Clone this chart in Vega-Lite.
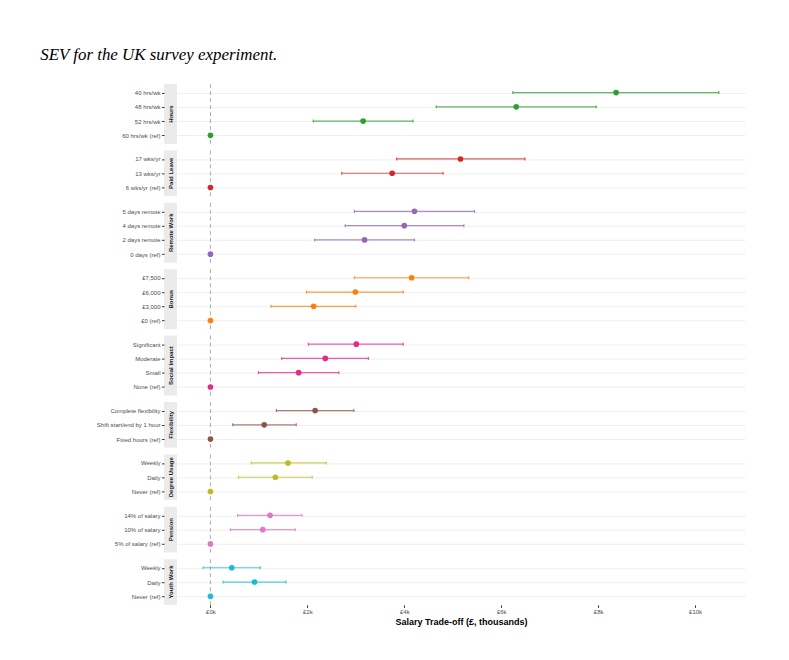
{
"$schema": "https://vega.github.io/schema/vega-lite/v6.json",
"background": "white",
"padding": {"left": 40, "top": 45, "right": 20, "bottom": 10},
"title": {"text": "SEV for the UK survey experiment.", "anchor": "start", "font": "Liberation Serif", "fontStyle": "italic", "fontWeight": "normal", "fontSize": 16.9, "color": "#000000", "offset": 20, "dx": -56},
"data": {"values": [
{"group":"Hours","level":"40 hrs/wk","est":8.37,"lo":6.24,"hi":10.49},
{"group":"Hours","level":"48 hrs/wk","est":6.31,"lo":4.66,"hi":7.96},
{"group":"Hours","level":"52 hrs/wk","est":3.15,"lo":2.12,"hi":4.18},
{"group":"Hours","level":"60 hrs/wk (ref)","est":0,"lo":0,"hi":0},
{"group":"Paid Leave","level":"17 wks/yr","est":5.16,"lo":3.84,"hi":6.49},
{"group":"Paid Leave","level":"13 wks/yr","est":3.75,"lo":2.71,"hi":4.80},
{"group":"Paid Leave","level":"6 wks/yr (ref)","est":0,"lo":0,"hi":0},
{"group":"Remote Work","level":"5 days remote","est":4.21,"lo":2.97,"hi":5.45},
{"group":"Remote Work","level":"4 days remote","est":4.00,"lo":2.78,"hi":5.23},
{"group":"Remote Work","level":"2 days remote","est":3.18,"lo":2.15,"hi":4.21},
{"group":"Remote Work","level":"0 days (ref)","est":0,"lo":0,"hi":0},
{"group":"Bonus","level":"£7,500","est":4.15,"lo":2.97,"hi":5.33},
{"group":"Bonus","level":"£6,000","est":2.99,"lo":1.98,"hi":3.98},
{"group":"Bonus","level":"£3,000","est":2.13,"lo":1.25,"hi":3.00},
{"group":"Bonus","level":"£0 (ref)","est":0,"lo":0,"hi":0},
{"group":"Social Impact","level":"Significant","est":3.01,"lo":2.02,"hi":3.98},
{"group":"Social Impact","level":"Moderate","est":2.37,"lo":1.47,"hi":3.26},
{"group":"Social Impact","level":"Small","est":1.82,"lo":0.99,"hi":2.65},
{"group":"Social Impact","level":"None (ref)","est":0,"lo":0,"hi":0},
{"group":"Flexibility","level":"Complete flexibility","est":2.16,"lo":1.36,"hi":2.96},
{"group":"Flexibility","level":"Shift start/end by 1 hour","est":1.11,"lo":0.46,"hi":1.77},
{"group":"Flexibility","level":"Fixed hours (ref)","est":0,"lo":0,"hi":0},
{"group":"Degree Usage","level":"Weekly","est":1.60,"lo":0.84,"hi":2.39},
{"group":"Degree Usage","level":"Daily","est":1.34,"lo":0.58,"hi":2.10},
{"group":"Degree Usage","level":"Never (ref)","est":0,"lo":0,"hi":0},
{"group":"Pension","level":"14% of salary","est":1.23,"lo":0.56,"hi":1.89},
{"group":"Pension","level":"10% of salary","est":1.08,"lo":0.41,"hi":1.75},
{"group":"Pension","level":"5% of salary (ref)","est":0,"lo":0,"hi":0},
{"group":"Youth Work","level":"Weekly","est":0.44,"lo":-0.15,"hi":1.03},
{"group":"Youth Work","level":"Daily","est":0.91,"lo":0.26,"hi":1.56},
{"group":"Youth Work","level":"Never (ref)","est":0,"lo":0,"hi":0}
]},
"columns": 2,
"spacing": {"row": 4.4, "column": 0},
"align": {"row": "each", "column": "each"},
"concat": [
{"width":13,"height":{"step":14.27},"view":{"fill":"#ebebeb","stroke":null},"transform":[{"filter":"datum.group==='Hours'"}],"layer":[
 {"mark":{"type":"point","opacity":0},"encoding":{"y":{"field":"level","type":"ordinal","sort":{"field":"est","order":"descending"},"scale":{"type":"point","padding":0.6},"axis":{"labels":true,"ticks":true,"grid":false,"title":null}}}},
 {"transform":[{"aggregate":[{"op":"count","as":"n"}]}],"mark":{"type":"text","text":"Hours","angle":270,"fontWeight":"bold","fontSize":6,"color":"#1a1a1a"},"encoding":{}}]},
{"width":568,"height":{"step":14.27},"transform":[{"filter":"datum.group==='Hours'"}],"layer":[
 {"transform":[{"aggregate":[{"op":"count","as":"n"}]}],"mark":{"type":"rule","strokeDash":[4,3],"color":"#999999","strokeWidth":0.8},"encoding":{"x":{"datum":0,"type":"quantitative","scale":{"domain":[-0.69,11.03],"nice":false,"zero":false},"title":null}}},
 {"mark":{"type":"errorbar","ticks":true,"color":"#2ca02c","opacity":0.75,"thickness":1.2,"size":3},"encoding":{"y":{"field":"level","type":"ordinal","sort":{"field":"est","order":"descending"},"scale":{"type":"point","padding":0.6},"axis":{"grid":true,"title":null}},"x":{"field":"lo","type":"quantitative","scale":{"domain":[-0.69,11.03],"nice":false,"zero":false},"title":null},"x2":{"field":"hi"}}},
 {"mark":{"type":"point","filled":true,"opacity":1,"size":32,"color":"#2ca02c"},"encoding":{"y":{"field":"level","type":"ordinal","sort":{"field":"est","order":"descending"},"scale":{"type":"point","padding":0.6},"axis":{"grid":true,"title":null}},"x":{"field":"est","type":"quantitative","scale":{"domain":[-0.69,11.03],"nice":false,"zero":false},"title":null}}}]},

{"width":13,"height":{"step":14.27},"view":{"fill":"#ebebeb","stroke":null},"transform":[{"filter":"datum.group==='Paid Leave'"}],"layer":[
 {"mark":{"type":"point","opacity":0},"encoding":{"y":{"field":"level","type":"ordinal","sort":{"field":"est","order":"descending"},"scale":{"type":"point","padding":0.6},"axis":{"labels":true,"ticks":true,"grid":false,"title":null}}}},
 {"transform":[{"aggregate":[{"op":"count","as":"n"}]}],"mark":{"type":"text","text":"Paid Leave","angle":270,"fontWeight":"bold","fontSize":6,"color":"#1a1a1a"},"encoding":{}}]},
{"width":568,"height":{"step":14.27},"transform":[{"filter":"datum.group==='Paid Leave'"}],"layer":[
 {"transform":[{"aggregate":[{"op":"count","as":"n"}]}],"mark":{"type":"rule","strokeDash":[4,3],"color":"#999999","strokeWidth":0.8},"encoding":{"x":{"datum":0,"type":"quantitative","scale":{"domain":[-0.69,11.03],"nice":false,"zero":false},"title":null}}},
 {"mark":{"type":"errorbar","ticks":true,"color":"#d62728","opacity":0.75,"thickness":1.2,"size":3},"encoding":{"y":{"field":"level","type":"ordinal","sort":{"field":"est","order":"descending"},"scale":{"type":"point","padding":0.6},"axis":{"grid":true,"title":null}},"x":{"field":"lo","type":"quantitative","scale":{"domain":[-0.69,11.03],"nice":false,"zero":false},"title":null},"x2":{"field":"hi"}}},
 {"mark":{"type":"point","filled":true,"opacity":1,"size":32,"color":"#d62728"},"encoding":{"y":{"field":"level","type":"ordinal","sort":{"field":"est","order":"descending"},"scale":{"type":"point","padding":0.6},"axis":{"grid":true,"title":null}},"x":{"field":"est","type":"quantitative","scale":{"domain":[-0.69,11.03],"nice":false,"zero":false},"title":null}}}]},

{"width":13,"height":{"step":14.27},"view":{"fill":"#ebebeb","stroke":null},"transform":[{"filter":"datum.group==='Remote Work'"}],"layer":[
 {"mark":{"type":"point","opacity":0},"encoding":{"y":{"field":"level","type":"ordinal","sort":{"field":"est","order":"descending"},"scale":{"type":"point","padding":0.6},"axis":{"labels":true,"ticks":true,"grid":false,"title":null}}}},
 {"transform":[{"aggregate":[{"op":"count","as":"n"}]}],"mark":{"type":"text","text":"Remote Work","angle":270,"fontWeight":"bold","fontSize":6,"color":"#1a1a1a"},"encoding":{}}]},
{"width":568,"height":{"step":14.27},"transform":[{"filter":"datum.group==='Remote Work'"}],"layer":[
 {"transform":[{"aggregate":[{"op":"count","as":"n"}]}],"mark":{"type":"rule","strokeDash":[4,3],"color":"#999999","strokeWidth":0.8},"encoding":{"x":{"datum":0,"type":"quantitative","scale":{"domain":[-0.69,11.03],"nice":false,"zero":false},"title":null}}},
 {"mark":{"type":"errorbar","ticks":true,"color":"#9467bd","opacity":0.75,"thickness":1.2,"size":3},"encoding":{"y":{"field":"level","type":"ordinal","sort":{"field":"est","order":"descending"},"scale":{"type":"point","padding":0.6},"axis":{"grid":true,"title":null}},"x":{"field":"lo","type":"quantitative","scale":{"domain":[-0.69,11.03],"nice":false,"zero":false},"title":null},"x2":{"field":"hi"}}},
 {"mark":{"type":"point","filled":true,"opacity":1,"size":32,"color":"#9467bd"},"encoding":{"y":{"field":"level","type":"ordinal","sort":{"field":"est","order":"descending"},"scale":{"type":"point","padding":0.6},"axis":{"grid":true,"title":null}},"x":{"field":"est","type":"quantitative","scale":{"domain":[-0.69,11.03],"nice":false,"zero":false},"title":null}}}]},

{"width":13,"height":{"step":14.27},"view":{"fill":"#ebebeb","stroke":null},"transform":[{"filter":"datum.group==='Bonus'"}],"layer":[
 {"mark":{"type":"point","opacity":0},"encoding":{"y":{"field":"level","type":"ordinal","sort":{"field":"est","order":"descending"},"scale":{"type":"point","padding":0.6},"axis":{"labels":true,"ticks":true,"grid":false,"title":null}}}},
 {"transform":[{"aggregate":[{"op":"count","as":"n"}]}],"mark":{"type":"text","text":"Bonus","angle":270,"fontWeight":"bold","fontSize":6,"color":"#1a1a1a"},"encoding":{}}]},
{"width":568,"height":{"step":14.27},"transform":[{"filter":"datum.group==='Bonus'"}],"layer":[
 {"transform":[{"aggregate":[{"op":"count","as":"n"}]}],"mark":{"type":"rule","strokeDash":[4,3],"color":"#999999","strokeWidth":0.8},"encoding":{"x":{"datum":0,"type":"quantitative","scale":{"domain":[-0.69,11.03],"nice":false,"zero":false},"title":null}}},
 {"mark":{"type":"errorbar","ticks":true,"color":"#ff7f0e","opacity":0.75,"thickness":1.2,"size":3},"encoding":{"y":{"field":"level","type":"ordinal","sort":{"field":"est","order":"descending"},"scale":{"type":"point","padding":0.6},"axis":{"grid":true,"title":null}},"x":{"field":"lo","type":"quantitative","scale":{"domain":[-0.69,11.03],"nice":false,"zero":false},"title":null},"x2":{"field":"hi"}}},
 {"mark":{"type":"point","filled":true,"opacity":1,"size":32,"color":"#ff7f0e"},"encoding":{"y":{"field":"level","type":"ordinal","sort":{"field":"est","order":"descending"},"scale":{"type":"point","padding":0.6},"axis":{"grid":true,"title":null}},"x":{"field":"est","type":"quantitative","scale":{"domain":[-0.69,11.03],"nice":false,"zero":false},"title":null}}}]},

{"width":13,"height":{"step":14.27},"view":{"fill":"#ebebeb","stroke":null},"transform":[{"filter":"datum.group==='Social Impact'"}],"layer":[
 {"mark":{"type":"point","opacity":0},"encoding":{"y":{"field":"level","type":"ordinal","sort":{"field":"est","order":"descending"},"scale":{"type":"point","padding":0.6},"axis":{"labels":true,"ticks":true,"grid":false,"title":null}}}},
 {"transform":[{"aggregate":[{"op":"count","as":"n"}]}],"mark":{"type":"text","text":"Social Impact","angle":270,"fontWeight":"bold","fontSize":6,"color":"#1a1a1a"},"encoding":{}}]},
{"width":568,"height":{"step":14.27},"transform":[{"filter":"datum.group==='Social Impact'"}],"layer":[
 {"transform":[{"aggregate":[{"op":"count","as":"n"}]}],"mark":{"type":"rule","strokeDash":[4,3],"color":"#999999","strokeWidth":0.8},"encoding":{"x":{"datum":0,"type":"quantitative","scale":{"domain":[-0.69,11.03],"nice":false,"zero":false},"title":null}}},
 {"mark":{"type":"errorbar","ticks":true,"color":"#e7298a","opacity":0.75,"thickness":1.2,"size":3},"encoding":{"y":{"field":"level","type":"ordinal","sort":{"field":"est","order":"descending"},"scale":{"type":"point","padding":0.6},"axis":{"grid":true,"title":null}},"x":{"field":"lo","type":"quantitative","scale":{"domain":[-0.69,11.03],"nice":false,"zero":false},"title":null},"x2":{"field":"hi"}}},
 {"mark":{"type":"point","filled":true,"opacity":1,"size":32,"color":"#e7298a"},"encoding":{"y":{"field":"level","type":"ordinal","sort":{"field":"est","order":"descending"},"scale":{"type":"point","padding":0.6},"axis":{"grid":true,"title":null}},"x":{"field":"est","type":"quantitative","scale":{"domain":[-0.69,11.03],"nice":false,"zero":false},"title":null}}}]},

{"width":13,"height":{"step":14.27},"view":{"fill":"#ebebeb","stroke":null},"transform":[{"filter":"datum.group==='Flexibility'"}],"layer":[
 {"mark":{"type":"point","opacity":0},"encoding":{"y":{"field":"level","type":"ordinal","sort":{"field":"est","order":"descending"},"scale":{"type":"point","padding":0.6},"axis":{"labels":true,"ticks":true,"grid":false,"title":null}}}},
 {"transform":[{"aggregate":[{"op":"count","as":"n"}]}],"mark":{"type":"text","text":"Flexibility","angle":270,"fontWeight":"bold","fontSize":6,"color":"#1a1a1a"},"encoding":{}}]},
{"width":568,"height":{"step":14.27},"transform":[{"filter":"datum.group==='Flexibility'"}],"layer":[
 {"transform":[{"aggregate":[{"op":"count","as":"n"}]}],"mark":{"type":"rule","strokeDash":[4,3],"color":"#999999","strokeWidth":0.8},"encoding":{"x":{"datum":0,"type":"quantitative","scale":{"domain":[-0.69,11.03],"nice":false,"zero":false},"title":null}}},
 {"mark":{"type":"errorbar","ticks":true,"color":"#8c564b","opacity":0.75,"thickness":1.2,"size":3},"encoding":{"y":{"field":"level","type":"ordinal","sort":{"field":"est","order":"descending"},"scale":{"type":"point","padding":0.6},"axis":{"grid":true,"title":null}},"x":{"field":"lo","type":"quantitative","scale":{"domain":[-0.69,11.03],"nice":false,"zero":false},"title":null},"x2":{"field":"hi"}}},
 {"mark":{"type":"point","filled":true,"opacity":1,"size":32,"color":"#8c564b"},"encoding":{"y":{"field":"level","type":"ordinal","sort":{"field":"est","order":"descending"},"scale":{"type":"point","padding":0.6},"axis":{"grid":true,"title":null}},"x":{"field":"est","type":"quantitative","scale":{"domain":[-0.69,11.03],"nice":false,"zero":false},"title":null}}}]},

{"width":13,"height":{"step":14.27},"view":{"fill":"#ebebeb","stroke":null},"transform":[{"filter":"datum.group==='Degree Usage'"}],"layer":[
 {"mark":{"type":"point","opacity":0},"encoding":{"y":{"field":"level","type":"ordinal","sort":{"field":"est","order":"descending"},"scale":{"type":"point","padding":0.6},"axis":{"labels":true,"ticks":true,"grid":false,"title":null}}}},
 {"transform":[{"aggregate":[{"op":"count","as":"n"}]}],"mark":{"type":"text","text":"Degree Usage","angle":270,"fontWeight":"bold","fontSize":6,"color":"#1a1a1a"},"encoding":{}}]},
{"width":568,"height":{"step":14.27},"transform":[{"filter":"datum.group==='Degree Usage'"}],"layer":[
 {"transform":[{"aggregate":[{"op":"count","as":"n"}]}],"mark":{"type":"rule","strokeDash":[4,3],"color":"#999999","strokeWidth":0.8},"encoding":{"x":{"datum":0,"type":"quantitative","scale":{"domain":[-0.69,11.03],"nice":false,"zero":false},"title":null}}},
 {"mark":{"type":"errorbar","ticks":true,"color":"#bcbd22","opacity":0.75,"thickness":1.2,"size":3},"encoding":{"y":{"field":"level","type":"ordinal","sort":{"field":"est","order":"descending"},"scale":{"type":"point","padding":0.6},"axis":{"grid":true,"title":null}},"x":{"field":"lo","type":"quantitative","scale":{"domain":[-0.69,11.03],"nice":false,"zero":false},"title":null},"x2":{"field":"hi"}}},
 {"mark":{"type":"point","filled":true,"opacity":1,"size":32,"color":"#bcbd22"},"encoding":{"y":{"field":"level","type":"ordinal","sort":{"field":"est","order":"descending"},"scale":{"type":"point","padding":0.6},"axis":{"grid":true,"title":null}},"x":{"field":"est","type":"quantitative","scale":{"domain":[-0.69,11.03],"nice":false,"zero":false},"title":null}}}]},

{"width":13,"height":{"step":14.27},"view":{"fill":"#ebebeb","stroke":null},"transform":[{"filter":"datum.group==='Pension'"}],"layer":[
 {"mark":{"type":"point","opacity":0},"encoding":{"y":{"field":"level","type":"ordinal","sort":{"field":"est","order":"descending"},"scale":{"type":"point","padding":0.6},"axis":{"labels":true,"ticks":true,"grid":false,"title":null}}}},
 {"transform":[{"aggregate":[{"op":"count","as":"n"}]}],"mark":{"type":"text","text":"Pension","angle":270,"fontWeight":"bold","fontSize":6,"color":"#1a1a1a"},"encoding":{}}]},
{"width":568,"height":{"step":14.27},"transform":[{"filter":"datum.group==='Pension'"}],"layer":[
 {"transform":[{"aggregate":[{"op":"count","as":"n"}]}],"mark":{"type":"rule","strokeDash":[4,3],"color":"#999999","strokeWidth":0.8},"encoding":{"x":{"datum":0,"type":"quantitative","scale":{"domain":[-0.69,11.03],"nice":false,"zero":false},"title":null}}},
 {"mark":{"type":"errorbar","ticks":true,"color":"#e377c2","opacity":0.75,"thickness":1.2,"size":3},"encoding":{"y":{"field":"level","type":"ordinal","sort":{"field":"est","order":"descending"},"scale":{"type":"point","padding":0.6},"axis":{"grid":true,"title":null}},"x":{"field":"lo","type":"quantitative","scale":{"domain":[-0.69,11.03],"nice":false,"zero":false},"title":null},"x2":{"field":"hi"}}},
 {"mark":{"type":"point","filled":true,"opacity":1,"size":32,"color":"#e377c2"},"encoding":{"y":{"field":"level","type":"ordinal","sort":{"field":"est","order":"descending"},"scale":{"type":"point","padding":0.6},"axis":{"grid":true,"title":null}},"x":{"field":"est","type":"quantitative","scale":{"domain":[-0.69,11.03],"nice":false,"zero":false},"title":null}}}]},

{"width":13,"height":{"step":14.27},"view":{"fill":"#ebebeb","stroke":null},"transform":[{"filter":"datum.group==='Youth Work'"}],"layer":[
 {"mark":{"type":"point","opacity":0},"encoding":{"y":{"field":"level","type":"ordinal","sort":["Weekly","Daily","Never (ref)"],"scale":{"type":"point","padding":0.6},"axis":{"labels":true,"ticks":true,"grid":false,"title":null}}}},
 {"transform":[{"aggregate":[{"op":"count","as":"n"}]}],"mark":{"type":"text","text":"Youth Work","angle":270,"fontWeight":"bold","fontSize":6,"color":"#1a1a1a"},"encoding":{}}]},
{"width":568,"height":{"step":14.27},"transform":[{"filter":"datum.group==='Youth Work'"}],"layer":[
 {"transform":[{"aggregate":[{"op":"count","as":"n"}]}],"mark":{"type":"rule","strokeDash":[4,3],"color":"#999999","strokeWidth":0.8},"encoding":{"x":{"datum":0,"type":"quantitative","scale":{"domain":[-0.69,11.03],"nice":false,"zero":false},"title":"Salary Trade-off (£, thousands)"}}},
 {"mark":{"type":"errorbar","ticks":true,"color":"#17becf","opacity":0.75,"thickness":1.2,"size":3},"encoding":{"y":{"field":"level","type":"ordinal","sort":["Weekly","Daily","Never (ref)"],"scale":{"type":"point","padding":0.6},"axis":{"grid":true,"title":null}},"x":{"field":"lo","type":"quantitative","scale":{"domain":[-0.69,11.03],"nice":false,"zero":false},"title":"Salary Trade-off (£, thousands)"},"x2":{"field":"hi"}}},
 {"mark":{"type":"point","filled":true,"opacity":1,"size":32,"color":"#17becf"},"encoding":{"y":{"field":"level","type":"ordinal","sort":["Weekly","Daily","Never (ref)"],"scale":{"type":"point","padding":0.6},"axis":{"grid":true,"title":null}},"x":{"field":"est","type":"quantitative","scale":{"domain":[-0.69,11.03],"nice":false,"zero":false},"title":"Salary Trade-off (£, thousands)","axis":{"labels":true,"ticks":true,"labelExpr":"'£' + datum.value + 'k'","labelFlush":false}}}}]}
],
"config": {
 "font": "Liberation Sans",
 "view": {"stroke": null},
 "axis": {"domain": false, "labelFont": "Liberation Sans", "labelFontSize": 6, "labelColor": "#4d4d4d", "tickColor": "#333333", "tickSize": 2.5, "labelPadding": 1.5, "gridColor": "#ebebeb", "gridWidth": 0.8, "titleFont": "Liberation Sans", "titleFontSize": 9, "titleFontWeight": "bold", "titleColor": "#000000", "titlePadding": 3},
 "axisX": {"labels": false, "ticks": false, "tickCount": 6, "gridColor": "#e3e3e3"},
 "axisY": {"labels": false, "ticks": false}
}
}
